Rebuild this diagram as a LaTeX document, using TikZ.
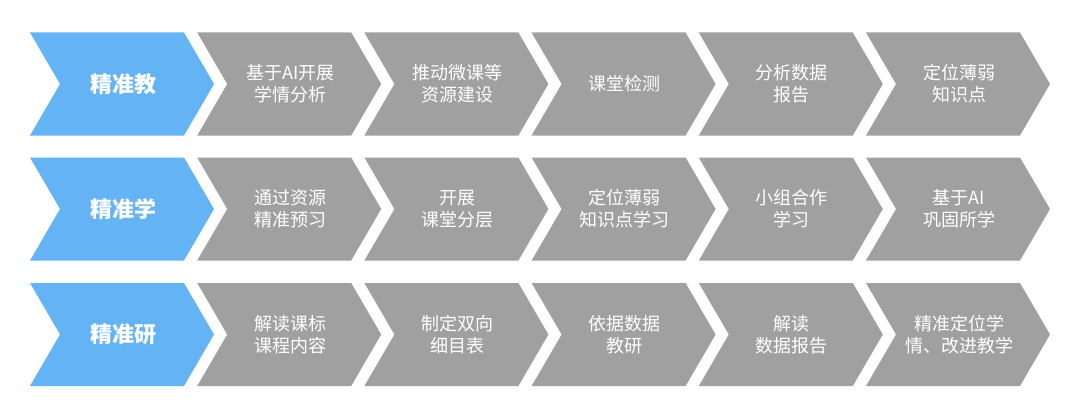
\documentclass[tikz,border=0pt]{standalone}
\usepackage{fontspec}
\newfontfamily\cjk{Noto Sans CJK SC}
\definecolor{gr}{HTML}{A0A0A0}
\definecolor{bl}{HTML}{63B3F5}
\begin{document}
\begin{tikzpicture}[x=1pt,y=-1pt,
  lbl/.style={text=white,font=\cjk\fontsize{18}{22}\selectfont,align=center},
  hd/.style={text=white,font=\cjk\bfseries\fontsize{22}{26}\selectfont}]
\useasboundingbox (0,0) rectangle (1080,412);
\newcommand{\chev}[4]{% x, ytop, color, name
  \fill[#3] (#1,#2) -- ++(154,0) -- ++(30,51.5) -- ++(-30,51.5) -- ++(-154,0) -- ++(30,-51.5) -- cycle;
  \coordinate (#4) at (#1+93,#2+51.5);}
\foreach \r/\y/\h/\a/\b/\c/\d/\e in {
 1/32.5/精准教/基于AI开展\\学情分析/推动微课等\\资源建设/课堂检测/分析数据\\报告/定位薄弱\\知识点,
 2/157.5/精准学/通过资源\\精准预习/开展\\课堂分层/定位薄弱\\知识点学习/小组合作\\学习/基于AI\\巩固所学,
 3/283/精准研/解读课标\\课程内容/制定双向\\细目表/依据数据\\教研/解读\\数据报告/精准定位学\\情、改进教学}{
  \chev{30}{\y}{bl}{h\r}
  \node[hd] (t\r0) at (h\r) {\h};
  \foreach \i/\t in {1/\a,2/\b,3/\c,4/\d,5/\e}{
    \pgfmathsetmacro\xx{30+167.2*\i}
    \chev{\xx}{\y}{gr}{c\r\i}
    \node[lbl] (t\r\i) at (c\r\i) {\t};
  }
}
\end{tikzpicture}
\end{document}
